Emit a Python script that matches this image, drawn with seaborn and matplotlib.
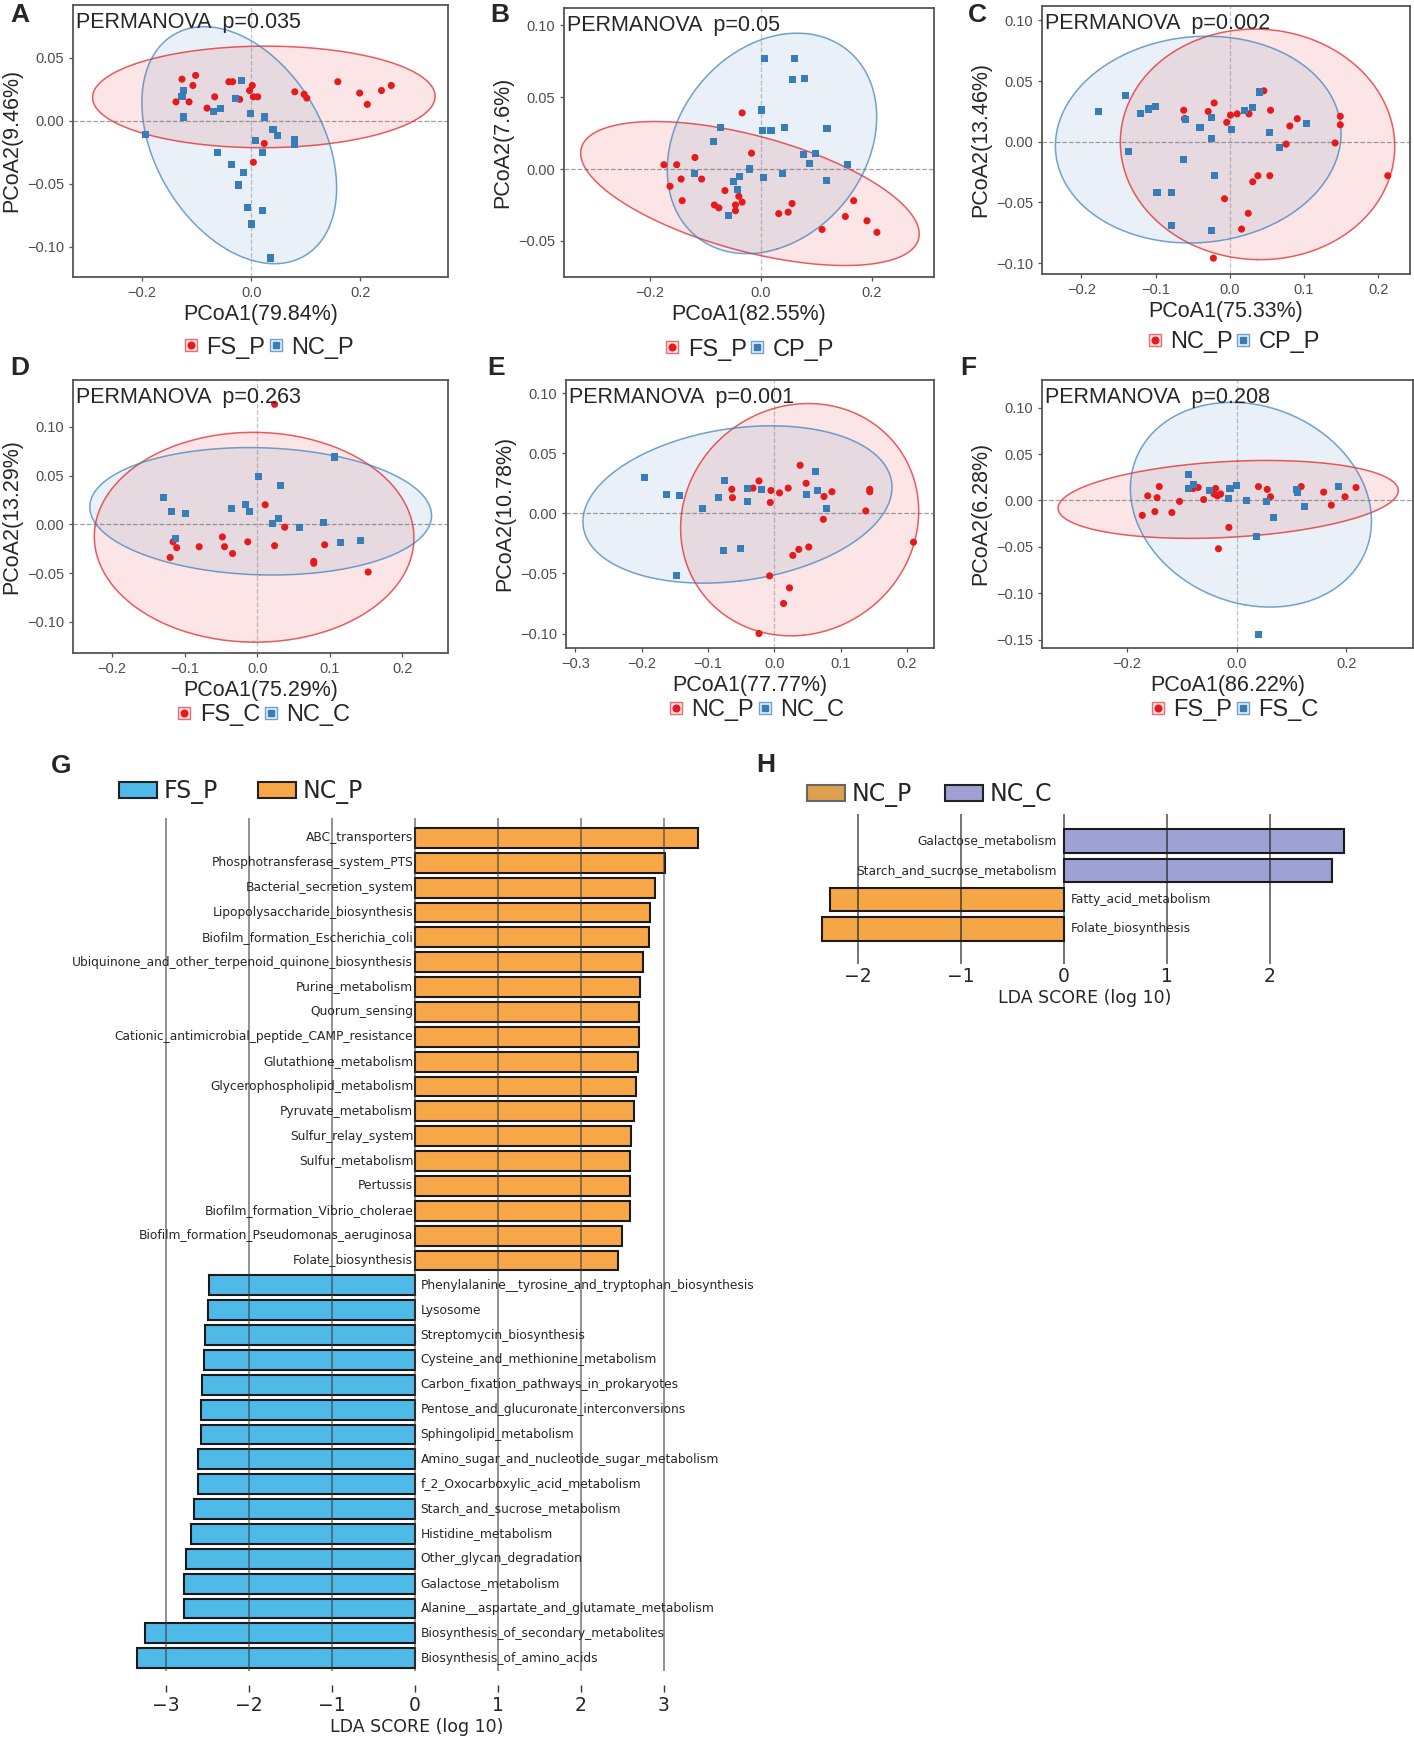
import numpy as np
import pandas as pd
import seaborn as sns
import matplotlib.pyplot as plt
from matplotlib.lines import Line2D
from matplotlib.patches import Patch
from matplotlib.legend_handler import HandlerTuple

# ---- PCoA scores (red group first, blue group second) ----
a_red_x = [-0.138, -0.127, -0.114, -0.107, -0.102, -0.081, -0.067, -0.041, -0.034, -0.021, 0.002, -0.003,
           0.004, 0.012, 0.024, 0.004, 0.080, 0.097, 0.102, 0.159, 0.199, 0.213, 0.239, 0.257]
a_red_y = [0.015, 0.033, 0.015, 0.028, 0.036, 0.010, 0.019, 0.031, 0.031, 0.017, 0.028, 0.024,
           0.019, 0.019, -0.018, -0.033, 0.023, 0.021, 0.018, 0.031, 0.022, 0.013, 0.024, 0.028]
a_blue_x = [-0.124, -0.127, -0.124, -0.194, -0.069, -0.057, -0.017, -0.028, -0.001, 0.024, 0.040, 0.048,
            0.008, 0.020, 0.080, 0.080, -0.061, -0.036, -0.014, -0.023, -0.007, 0.021, 0.000, 0.035]
a_blue_y = [0.024, 0.019, 0.003, -0.011, 0.007, 0.010, 0.032, 0.018, 0.006, 0.003, -0.007, -0.012,
            -0.016, -0.025, -0.015, -0.019, -0.025, -0.035, -0.041, -0.051, -0.069, -0.071, -0.082, -0.109]

b_red_x = [-0.175, -0.152, -0.144, -0.164, -0.142, -0.119, -0.107, -0.084, -0.076, -0.065, -0.046, -0.046,
           -0.040, -0.034, -0.034, -0.017, 0.032, 0.049, 0.056, 0.110, 0.152, 0.167, 0.191, 0.209]
b_red_y = [0.003, 0.003, -0.007, -0.012, -0.022, 0.008, -0.007, -0.025, -0.027, -0.015, -0.029, -0.025,
           -0.019, -0.023, 0.039, 0.011, -0.031, -0.030, -0.024, -0.042, -0.033, -0.022, -0.036, -0.044]
b_blue_x = [0.007, 0.060, 0.057, 0.079, 0.001, 0.002, 0.018, 0.042, 0.119, -0.073, -0.086, -0.120,
            -0.039, -0.050, -0.042, -0.021, 0.005, 0.039, 0.076, 0.099, 0.087, 0.156, 0.118, -0.059]
b_blue_y = [0.077, 0.077, 0.062, 0.063, 0.041, 0.027, 0.027, 0.029, 0.028, 0.029, 0.019, -0.003,
            -0.005, -0.009, -0.014, 0.000, -0.006, -0.003, 0.010, 0.011, 0.004, 0.003, -0.008, -0.032]

c_red_x = [-0.062, -0.061, -0.060, -0.029, -0.021, -0.004, 0.001, 0.010, 0.026, 0.046, 0.055, 0.081, 0.091,
           0.076, 0.142, 0.149, 0.149, 0.213, 0.038, 0.031, 0.054, -0.007, 0.025, 0.016, -0.022]
c_red_y = [0.026, 0.019, 0.019, 0.025, 0.032, 0.016, 0.022, 0.023, 0.023, 0.042, 0.026, 0.013, 0.019,
           -0.002, -0.001, 0.021, 0.014, -0.028, -0.028, -0.033, -0.028, -0.047, -0.059, -0.072, -0.096]
c_blue_x = [-0.177, -0.140, -0.120, -0.109, -0.100, -0.137, -0.059, -0.040, -0.024, -0.024, 0.002, 0.020,
            0.031, 0.040, 0.053, 0.067, 0.103, -0.062, -0.021, -0.098, -0.078, -0.078, -0.025]
c_blue_y = [0.025, 0.038, 0.023, 0.027, 0.029, -0.008, 0.018, 0.012, 0.020, 0.003, 0.010, 0.026,
            0.028, 0.041, 0.008, -0.005, 0.015, -0.015, -0.028, -0.042, -0.042, -0.069, -0.073]

d_red_x = [0.024, 0.011, 0.038, -0.116, -0.111, -0.120, -0.080, -0.048, -0.045, -0.034, -0.013, 0.024,
           0.078, 0.078, 0.093, 0.153]
d_red_y = [0.123, 0.020, -0.003, -0.018, -0.024, -0.034, -0.023, -0.013, -0.023, -0.030, -0.018, -0.022,
           -0.038, -0.040, -0.021, -0.049]
d_blue_x = [-0.129, -0.118, -0.099, -0.112, -0.036, -0.016, -0.011, 0.002, 0.032, 0.107, 0.021, 0.030,
            0.058, 0.091, 0.115, 0.142]
d_blue_y = [0.027, 0.013, 0.011, -0.015, 0.016, 0.020, 0.013, 0.049, 0.040, 0.069, 0.001, 0.006,
            -0.003, 0.002, -0.019, -0.017]

e_red_x = [-0.064, -0.063, -0.032, -0.023, -0.005, -0.006, 0.008, 0.021, 0.039, 0.048, 0.075, 0.087,
           0.074, 0.138, 0.144, 0.144, 0.210, 0.028, 0.037, 0.052, -0.007, 0.023, 0.014, -0.023]
e_red_y = [0.020, 0.013, 0.021, 0.027, 0.019, 0.009, 0.017, 0.021, 0.040, 0.025, 0.014, 0.018,
           -0.005, 0.002, 0.020, 0.018, -0.024, -0.035, -0.030, -0.028, -0.052, -0.062, -0.075, -0.100]
e_blue_x = [-0.195, -0.163, -0.143, -0.108, -0.084, -0.075, -0.041, -0.019, -0.040, 0.062, 0.049, 0.065,
            0.079, -0.077, -0.051, -0.147]
e_blue_y = [0.030, 0.016, 0.015, 0.004, 0.013, 0.027, 0.021, 0.020, 0.010, 0.035, 0.016, 0.019,
            0.004, -0.031, -0.029, -0.052]

f_red_x = [-0.172, -0.162, -0.145, -0.141, -0.149, -0.118, -0.104, -0.079, -0.070, -0.060, -0.038, -0.041,
           -0.035, -0.029, -0.014, -0.033, 0.040, 0.056, 0.062, 0.118, 0.159, 0.173, 0.198, 0.218]
f_red_y = [-0.016, 0.005, 0.003, 0.015, -0.012, -0.013, -0.001, 0.013, 0.014, 0.001, 0.013, 0.007,
           0.005, 0.007, -0.029, -0.052, 0.015, 0.012, 0.004, 0.015, 0.009, -0.005, 0.004, 0.014]
f_blue_x = [-0.087, -0.087, -0.079, -0.049, -0.012, 0.000, -0.015, 0.018, 0.055, 0.067, 0.037, 0.040,
            0.110, 0.112, 0.124, 0.186]
f_blue_y = [0.028, 0.013, 0.017, 0.011, 0.013, 0.016, 0.002, 0.000, -0.001, -0.018, -0.039, -0.145,
            0.012, 0.009, -0.006, 0.015]

# ---- LEfSe LDA scores ----
g_features = ['ABC_transporters', 'Phosphotransferase_system_PTS', 'Bacterial_secretion_system',
              'Lipopolysaccharide_biosynthesis', 'Biofilm_formation_Escherichia_coli',
              'Ubiquinone_and_other_terpenoid_quinone_biosynthesis', 'Purine_metabolism', 'Quorum_sensing',
              'Cationic_antimicrobial_peptide_CAMP_resistance', 'Glutathione_metabolism',
              'Glycerophospholipid_metabolism', 'Pyruvate_metabolism', 'Sulfur_relay_system',
              'Sulfur_metabolism', 'Pertussis', 'Biofilm_formation_Vibrio_cholerae',
              'Biofilm_formation_Pseudomonas_aeruginosa', 'Folate_biosynthesis',
              'Phenylalanine__tyrosine_and_tryptophan_biosynthesis', 'Lysosome', 'Streptomycin_biosynthesis',
              'Cysteine_and_methionine_metabolism', 'Carbon_fixation_pathways_in_prokaryotes',
              'Pentose_and_glucuronate_interconversions', 'Sphingolipid_metabolism',
              'Amino_sugar_and_nucleotide_sugar_metabolism', 'f_2_Oxocarboxylic_acid_metabolism',
              'Starch_and_sucrose_metabolism', 'Histidine_metabolism', 'Other_glycan_degradation',
              'Galactose_metabolism', 'Alanine__aspartate_and_glutamate_metabolism',
              'Biosynthesis_of_secondary_metabolites', 'Biosynthesis_of_amino_acids']
g_scores = [3.41, 3.02, 2.90, 2.84, 2.83, 2.75, 2.71, 2.70, 2.70, 2.69, 2.67, 2.64, 2.61, 2.60, 2.60, 2.59,
            2.50, 2.45,
            -2.49, -2.50, -2.53, -2.55, -2.57, -2.58, -2.58, -2.62, -2.62, -2.66, -2.70, -2.76, -2.78, -2.78,
            -3.26, -3.35]
g_groups = ['NC_P'] * 18 + ['FS_P'] * 16

h_features = ['Galactose_metabolism', 'Starch_and_sucrose_metabolism', 'Fatty_acid_metabolism',
              'Folate_biosynthesis']
h_scores = [2.72, 2.60, -2.27, -2.35]
h_groups = ['NC_C', 'NC_C', 'NC_P', 'NC_P']

sns.set_theme(style='ticks')
plt.rcParams['font.family'] = ['Liberation Sans', 'DejaVu Sans']

RED = '#E41A1C'
BLUE = '#377EB8'


def ellipse_xy(x, y, level=0.95, n=200):
    # stat_ellipse style: covariance ellipse scaled by sqrt(2 * F(level; 2, n-1))
    pts = np.column_stack([x, y])
    m = len(pts) - 1
    fq = (m / 2) * ((1 - level) ** (-2 / m) - 1)
    r = np.sqrt(2 * fq)
    vals, vecs = np.linalg.eigh(np.cov(pts.T))
    t = np.linspace(0, 2 * np.pi, n)
    circ = np.column_stack([np.cos(t), np.sin(t)]) * np.sqrt(vals)
    e = r * circ @ vecs.T + pts.mean(axis=0)
    return e[:, 0], e[:, 1]


def pcoa(ax, rx, ry, bx, by, names, xlab, ylab, pval, xlim, ylim, xt, yt, leg_xy):
    ax.axhline(0, color='#A0A0A0', ls='--', lw=0.9, zorder=0)
    ax.axvline(0, color='#C4C4C4', ls='--', lw=0.9, zorder=0)
    for xs, ys, c in [(rx, ry, RED), (bx, by, BLUE)]:
        ex, ey = ellipse_xy(xs, ys)
        ax.fill(ex, ey, color=c, alpha=0.11, lw=0, zorder=1)
        ax.plot(ex, ey, color=c, alpha=0.7, lw=1.1, zorder=2)
    df = pd.DataFrame({'x': rx + bx, 'y': ry + by,
                       'g': [names[0]] * len(rx) + [names[1]] * len(bx)})
    sns.scatterplot(data=df, x='x', y='y', hue='g', style='g',
                    markers={names[0]: 'o', names[1]: 's'},
                    palette={names[0]: RED, names[1]: BLUE},
                    s=26, linewidth=0, legend=False, ax=ax, zorder=3)
    ax.set(xlim=xlim, ylim=ylim, xticks=xt, yticks=yt)
    ax.set_xlabel(xlab, fontsize=15.5, labelpad=3)
    ax.set_ylabel(ylab, fontsize=15.5, labelpad=3)
    ax.tick_params(labelsize=10.5, labelcolor='#4D4D4D', color='#555555', length=3, width=0.9)
    for s in ax.spines.values():
        s.set_color('#555555')
        s.set_linewidth(1.3)
    ax.text(0.008, 0.975, f'PERMANOVA  p={pval}', transform=ax.transAxes,
            ha='left', va='top', fontsize=15.5)
    h1 = (Line2D([], [], ls='none', marker='s', ms=9, mfc='#FCE3E3', mec='#EE6A70', mew=1.0),
          Line2D([], [], ls='none', marker='o', ms=4.8, color=RED))
    h2 = (Line2D([], [], ls='none', marker='s', ms=9, mfc='#E4EEF8', mec='#6EA0D0', mew=1.0),
          Line2D([], [], ls='none', marker='s', ms=4.4, color=BLUE))
    ax.legend([h1, h2], names, handler_map={tuple: HandlerTuple(ndivide=1, pad=0)},
              loc='center', bbox_to_anchor=leg_xy, ncol=2, frameon=False, fontsize=17,
              handlelength=0.7, handletextpad=0.3, columnspacing=0.1, borderaxespad=0)


fig = plt.figure(figsize=(14.14, 17.46), dpi=100)

axA = fig.add_axes([0.0516, 0.8414, 0.2652, 0.1558])
pcoa(axA, a_red_x, a_red_y, a_blue_x, a_blue_y, ['FS_P', 'NC_P'], 'PCoA1(79.84%)', 'PCoA2(9.46%)',
     '0.035', (-0.327, 0.361), (-0.124, 0.092), [-0.2, 0, 0.2], [-0.10, -0.05, 0, 0.05], (0.52, -0.26))

axB = fig.add_axes([0.3989, 0.8414, 0.2617, 0.1541])
pcoa(axB, b_red_x, b_red_y, b_blue_x, b_blue_y, ['FS_P', 'CP_P'], 'PCoA1(82.55%)', 'PCoA2(7.6%)',
     '0.05', (-0.355, 0.312), (-0.075, 0.112), [-0.2, 0, 0.2], [-0.05, 0, 0.05, 0.10], (0.50, -0.27))

axC = fig.add_axes([0.7369, 0.8431, 0.2603, 0.1535])
pcoa(axC, c_red_x, c_red_y, c_blue_x, c_blue_y, ['NC_P', 'CP_P'], 'PCoA1(75.33%)', 'PCoA2(13.46%)',
     '0.002', (-0.253, 0.243), (-0.109, 0.112), [-0.2, -0.1, 0, 0.1, 0.2],
     [-0.10, -0.05, 0, 0.05, 0.10], (0.52, -0.255))

axD = fig.add_axes([0.0516, 0.6260, 0.2652, 0.1564])
pcoa(axD, d_red_x, d_red_y, d_blue_x, d_blue_y, ['FS_C', 'NC_C'], 'PCoA1(75.29%)', 'PCoA2(13.29%)',
     '0.263', (-0.254, 0.263), (-0.132, 0.148), [-0.2, -0.1, 0, 0.1, 0.2],
     [-0.10, -0.05, 0, 0.05, 0.10], (0.507, -0.227))

axE = fig.add_axes([0.4003, 0.6289, 0.2603, 0.1535])
pcoa(axE, e_red_x, e_red_y, e_blue_x, e_blue_y, ['NC_P', 'NC_C'], 'PCoA1(77.77%)', 'PCoA2(10.78%)',
     '0.001', (-0.314, 0.241), (-0.112, 0.111), [-0.3, -0.2, -0.1, 0, 0.1, 0.2],
     [-0.10, -0.05, 0, 0.05, 0.10], (0.516, -0.231))

axF = fig.add_axes([0.7369, 0.6289, 0.2624, 0.1535])
pcoa(axF, f_red_x, f_red_y, f_blue_x, f_blue_y, ['FS_P', 'FS_C'], 'PCoA1(86.22%)', 'PCoA2(6.28%)',
     '0.208', (-0.355, 0.322), (-0.159, 0.130), [-0.2, 0, 0.2],
     [-0.15, -0.10, -0.05, 0, 0.05, 0.10], (0.518, -0.231))

# panel letters
for lab, px, py in [('A', 20, 15), ('B', 500, 15), ('C', 977, 15), ('D', 20, 368), ('E', 496, 368),
                    ('F', 968, 368), ('G', 61, 766), ('H', 766, 765)]:
    fig.text(px / 1414, 1 - py / 1746, lab, ha='center', va='center', fontsize=19, weight='bold')

# ---- G: LDA bars FS_P vs NC_P ----
G_BLUE = '#4FB9E8'
G_ORANGE = '#F7A748'
axG = fig.add_axes([0.0912, 0.0429, 0.4074, 0.4886])
dfG = pd.DataFrame({'feature': g_features, 'lda': g_scores, 'group': g_groups})
sns.barplot(data=dfG, x='lda', y='feature', hue='group', palette={'FS_P': G_BLUE, 'NC_P': G_ORANGE},
            orient='h', dodge=False, width=0.8, saturation=1, errorbar=None,
            edgecolor='#1A1A1A', linewidth=1.5, legend=False, ax=axG)
axG.set_xlim(-3.45, 3.5)
axG.set_ylim(33.52, -0.8)
axG.set_yticks([])
axG.set_ylabel('')
axG.set_xticks(range(-3, 4))
for s in axG.spines.values():
    s.set_visible(False)
axG.spines['bottom'].set_position(('outward', 10))
axG.grid(axis='x', color='#3A3A3A', lw=1.1, alpha=0.7)
axG.set_axisbelow(False)
axG.tick_params(axis='x', length=5, width=1, color='#333333', labelsize=13.5, pad=3,
                labelfontfamily='DejaVu Sans')
axG.set_xlabel('LDA SCORE (log 10)', fontsize=12.5, labelpad=2, family='DejaVu Sans')
for i, (f, v) in enumerate(zip(g_features, g_scores)):
    if v > 0:
        axG.text(-0.02, i, f, ha='right', va='center', fontsize=8.8, family='DejaVu Sans')
    else:
        axG.text(0.07, i, f, ha='left', va='center', fontsize=8.8, family='DejaVu Sans')
fig.legend(handles=[Patch(fc=G_BLUE, ec='#222222', lw=1.5, label='FS_P'),
                    Patch(fc=G_ORANGE, ec='#222222', lw=1.5, label='NC_P')],
           loc='center left', bbox_to_anchor=(0.084, 0.5464), ncol=2, frameon=False,
           prop={'family': 'DejaVu Sans', 'size': 17}, handlelength=1.6, handleheight=0.7,
           handletextpad=0.3, columnspacing=1.7, borderpad=0, borderaxespad=0)

# ---- H: LDA bars NC_P vs NC_C ----
H_ORANGE = '#F5A646'
H_PURPLE = '#9DA1D4'
axH = fig.add_axes([0.574, 0.4479, 0.386, 0.0859])
dfH = pd.DataFrame({'feature': h_features, 'lda': h_scores, 'group': h_groups})
sns.barplot(data=dfH, x='lda', y='feature', hue='group', palette={'NC_C': H_PURPLE, 'NC_P': H_ORANGE},
            orient='h', dodge=False, width=0.8, saturation=1, errorbar=None,
            edgecolor='#1A1A1A', linewidth=1.5, legend=False, ax=axH)
axH.set_xlim(-2.45, 2.85)
axH.set_ylim(4.2, -0.92)
axH.set_yticks([])
axH.set_ylabel('')
axH.set_xticks(range(-2, 3))
for s in axH.spines.values():
    s.set_visible(False)
axH.grid(axis='x', color='#222222', lw=1.1, alpha=0.8)
axH.set_axisbelow(False)
axH.tick_params(axis='x', length=0, labelsize=13.5, pad=2, labelfontfamily='DejaVu Sans')
axH.set_xlabel('LDA SCORE (log 10)', fontsize=12.5, labelpad=2, family='DejaVu Sans')
for i, (f, v) in enumerate(zip(h_features, h_scores)):
    if v > 0:
        axH.text(-0.065, i, f, ha='right', va='center', fontsize=8.8, family='DejaVu Sans')
    else:
        axH.text(0.07, i, f, ha='left', va='center', fontsize=8.8, family='DejaVu Sans')
fig.legend(handles=[Patch(fc='#DCA04E', ec='#666666', lw=1.5, label='NC_P'),
                    Patch(fc=H_PURPLE, ec='#222222', lw=1.5, label='NC_C')],
           loc='center left', bbox_to_anchor=(0.5707, 0.5447), ncol=2, frameon=False,
           prop={'family': 'DejaVu Sans', 'size': 17}, handlelength=1.6, handleheight=0.7,
           handletextpad=0.3, columnspacing=1.4, borderpad=0, borderaxespad=0)

fig.savefig('out.png', dpi=100)
